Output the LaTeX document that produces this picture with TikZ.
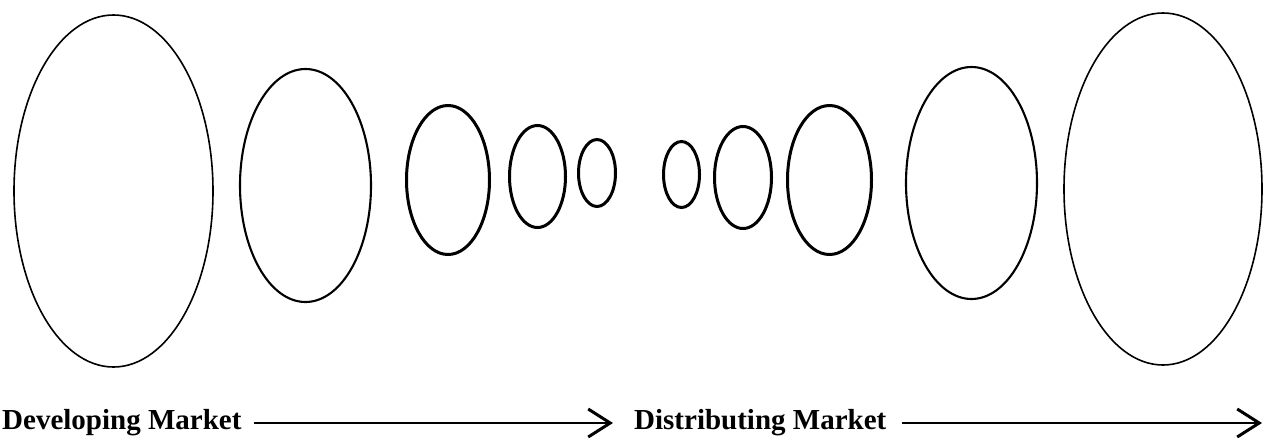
\documentclass[tikz,border=0pt]{standalone}
\usepackage{fontspec}
\setmainfont{Liberation Serif}
\usetikzlibrary{shapes.geometric,arrows.meta}
\tikzset{
  oval/.style={draw=black, ellipse, inner sep=0pt, outer sep=0pt},
  big/.style={oval, line width=1.6pt},
  mid/.style={oval, line width=2.1pt},
  small/.style={oval, line width=3pt},
  label/.style={font=\fontsize{29}{32}\selectfont\bfseries, inner sep=0pt, anchor=base west},
  flow/.style={line width=1.5pt, -{Straight Barb[length=22pt,width=28pt,line width=3pt]}}
}
\begin{document}
\begin{tikzpicture}[x=1pt,y=-1pt]
\useasboundingbox (0,0) rectangle (1264,437);
% ellipses
\node[big,   minimum width=199pt, minimum height=352pt] (e1)  at (113.5,191) {};
\node[mid,   minimum width=131pt, minimum height=233pt] (e2)  at (305.5,185.5) {};
\node[small, minimum width=83pt,  minimum height=149pt] (e3)  at (448,180) {};
\node[small, minimum width=56pt,  minimum height=102pt] (e4)  at (537.5,176.5) {};
\node[small, minimum width=37pt,  minimum height=67pt]  (e5)  at (597,173) {};
\node[small, minimum width=36pt,  minimum height=66pt]  (e6)  at (681.5,174.5) {};
\node[small, minimum width=57pt,  minimum height=102pt] (e7)  at (743,177.5) {};
\node[small, minimum width=84pt,  minimum height=149pt] (e8)  at (829.5,180) {};
\node[mid,   minimum width=131pt, minimum height=232pt] (e9)  at (971.5,183) {};
\node[big,   minimum width=198pt, minimum height=352pt] (e10) at (1163,189) {};
% labels
\node[label] (dev)  at (2,429)   {Developing Market};
\node[label] (dist) at (634,429) {Distributing Market};
% arrows
\coordinate (tip1) at (613,423);
\coordinate (tip2) at (1262,423);
\draw[flow] ([xshift=12pt,yshift=6pt]dev.base east) -- (tip1);
\draw[flow] ([xshift=15pt,yshift=6pt]dist.base east) -- (tip2);
\end{tikzpicture}
\end{document}
